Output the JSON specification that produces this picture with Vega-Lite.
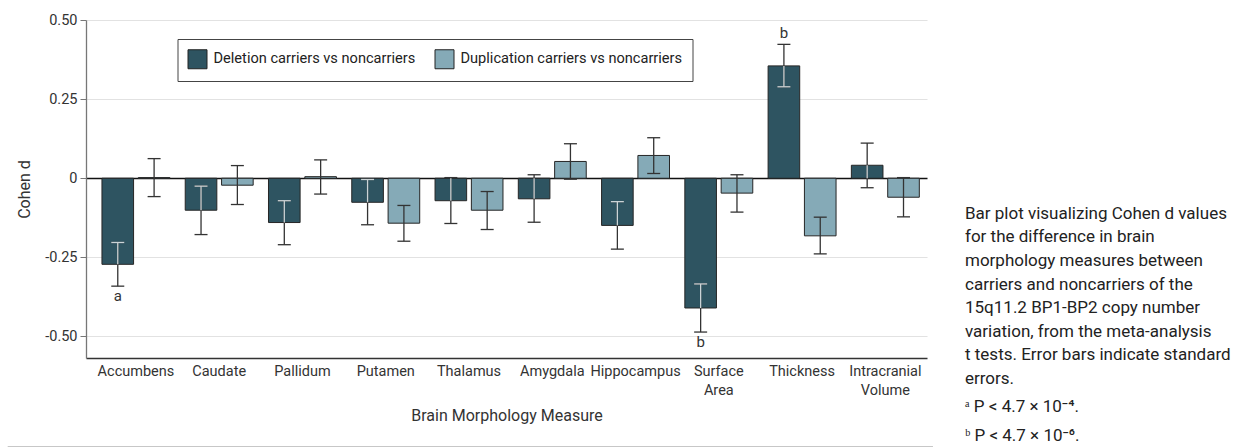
{
  "$schema": "https://vega.github.io/schema/vega-lite/v6.json",
  "padding": {"left": 7, "top": 12, "right": 0, "bottom": 0},
  "config": {
    "font": "Roboto",
    "view": {"stroke": null},
    "axis": {"labelColor": "#333", "titleColor": "#333", "titleFontWeight": "normal"}
  },
  "spacing": 31,
  "hconcat": [
    {
      "spacing": 22.5,
      "vconcat": [
        {
          "width": 841,
          "height": 338,
          "data": {
            "values": [
              {"measure": "Accumbens", "group": "Deletion carriers vs noncarriers", "d": -0.272, "lo": -0.341, "hi": -0.203, "inner": -0.203, "lab": "a"},
              {"measure": "Accumbens", "group": "Duplication carriers vs noncarriers", "d": 0.002, "lo": -0.058, "hi": 0.062},
              {"measure": "Caudate", "group": "Deletion carriers vs noncarriers", "d": -0.101, "lo": -0.178, "hi": -0.025, "inner": -0.025},
              {"measure": "Caudate", "group": "Duplication carriers vs noncarriers", "d": -0.022, "lo": -0.083, "hi": 0.04},
              {"measure": "Pallidum", "group": "Deletion carriers vs noncarriers", "d": -0.14, "lo": -0.21, "hi": -0.071, "inner": -0.071},
              {"measure": "Pallidum", "group": "Duplication carriers vs noncarriers", "d": 0.005, "lo": -0.05, "hi": 0.058},
              {"measure": "Putamen", "group": "Deletion carriers vs noncarriers", "d": -0.076, "lo": -0.147, "hi": -0.004, "inner": -0.004},
              {"measure": "Putamen", "group": "Duplication carriers vs noncarriers", "d": -0.142, "lo": -0.199, "hi": -0.086},
              {"measure": "Thalamus", "group": "Deletion carriers vs noncarriers", "d": -0.071, "lo": -0.143, "hi": 0.002, "inner": 0},
              {"measure": "Thalamus", "group": "Duplication carriers vs noncarriers", "d": -0.101, "lo": -0.162, "hi": -0.042},
              {"measure": "Amygdala", "group": "Deletion carriers vs noncarriers", "d": -0.065, "lo": -0.139, "hi": 0.011, "inner": 0},
              {"measure": "Amygdala", "group": "Duplication carriers vs noncarriers", "d": 0.053, "lo": -0.003, "hi": 0.109},
              {"measure": "Hippocampus", "group": "Deletion carriers vs noncarriers", "d": -0.149, "lo": -0.224, "hi": -0.074, "inner": -0.074},
              {"measure": "Hippocampus", "group": "Duplication carriers vs noncarriers", "d": 0.072, "lo": 0.015, "hi": 0.128},
              {"measure": "Surface Area", "group": "Deletion carriers vs noncarriers", "d": -0.41, "lo": -0.486, "hi": -0.334, "inner": -0.334, "lab": "b"},
              {"measure": "Surface Area", "group": "Duplication carriers vs noncarriers", "d": -0.047, "lo": -0.107, "hi": 0.011},
              {"measure": "Thickness", "group": "Deletion carriers vs noncarriers", "d": 0.355, "lo": 0.289, "hi": 0.423, "inner": 0.289, "lab": "b"},
              {"measure": "Thickness", "group": "Duplication carriers vs noncarriers", "d": -0.182, "lo": -0.239, "hi": -0.123},
              {"measure": "Intracranial Volume", "group": "Deletion carriers vs noncarriers", "d": 0.041, "lo": -0.03, "hi": 0.111, "inner": 0},
              {"measure": "Intracranial Volume", "group": "Duplication carriers vs noncarriers", "d": -0.06, "lo": -0.122, "hi": 0.002}
            ]
          },
          "encoding": {
            "x": {
              "field": "measure", "type": "nominal", "sort": null,
              "scale": {"paddingInner": 0.184, "paddingOuter": 0.142, "align": 0.675},
              "axis": {
                "title": "Brain Morphology Measure", "titleFontSize": 16, "titlePadding": 11,
                "labelAngle": 0, "labelFontSize": 14.5, "labelPadding": 6, "labelLineHeight": 19,
                "labelExpr": "split(datum.label, ' ')", "ticks": false,
                "domainColor": "#333", "domainWidth": 1.3, "grid": false
              }
            },
            "xOffset": {"field": "group", "type": "nominal", "sort": null, "scale": {"paddingInner": 0.13, "paddingOuter": 0}}
          },
          "layer": [
            {
              "mark": {"type": "bar", "stroke": "#262626", "strokeWidth": 1},
              "encoding": {
                "y": {
                  "field": "d", "type": "quantitative", "title": "Cohen d",
                  "scale": {"domain": [-0.568, 0.5], "nice": false, "zero": false},
                  "axis": {
                    "values": [-0.5, -0.25, 0, 0.25, 0.5],
                    "labelExpr": "datum.value == 0 ? '0' : (datum.value < 0 ? '-' + format(-datum.value, '.2f') : format(datum.value, '.2f'))",
                    "labelFontSize": 14.5, "labelPadding": 3, "tickSize": 6, "tickColor": "#777", "domainColor": "#777", "domainWidth": 1.3,
                    "titleFontSize": 16, "titlePadding": 12,
                    "grid": true,
                    "gridColor": {"condition": {"test": "datum.value === 0", "value": "#111"}, "value": "#e2e2e2"},
                    "gridWidth": {"condition": {"test": "datum.value === 0", "value": 1.3}, "value": 1.2}
                  }
                },
                "color": {
                  "field": "group", "type": "nominal",
                  "scale": {"domain": ["Deletion carriers vs noncarriers", "Duplication carriers vs noncarriers"], "range": ["#2e5461", "#85aab7"]},
                  "legend": {
                    "orient": "none", "legendX": 91.5, "legendY": 19, "direction": "horizontal", "title": null,
                    "symbolType": "square", "symbolSize": 361, "symbolStrokeColor": "#222", "symbolStrokeWidth": 1,
                    "labelFontSize": 14.6, "labelColor": "#222", "labelOffset": 6, "columnPadding": 17, "labelLimit": 0,
                    "padding": 10, "strokeColor": "#444", "fillColor": "white"
                  }
                }
              }
            },
            {
              "mark": {"type": "rule", "color": "#333", "strokeWidth": 1.3},
              "encoding": {"y": {"field": "lo", "type": "quantitative", "title": "Cohen d"}, "y2": {"field": "hi"}}
            },
            {
              "mark": {"type": "tick", "color": "#333", "thickness": 1.3, "size": 13, "opacity": 1},
              "encoding": {"y": {"field": "lo", "type": "quantitative", "title": "Cohen d"}}
            },
            {
              "mark": {"type": "tick", "color": "#333", "thickness": 1.3, "size": 13, "opacity": 1},
              "encoding": {"y": {"field": "hi", "type": "quantitative", "title": "Cohen d"}}
            },
            {
              "transform": [{"filter": "isValid(datum.inner)"}],
              "mark": {"type": "rule", "color": "#cbd4d7", "strokeWidth": 1.3},
              "encoding": {"y": {"field": "d", "type": "quantitative", "title": "Cohen d"}, "y2": {"field": "inner"}}
            },
            {
              "transform": [{"filter": "isValid(datum.inner) && datum.inner != 0"}],
              "mark": {"type": "tick", "color": "#cbd4d7", "thickness": 1.3, "size": 13, "opacity": 1},
              "encoding": {"y": {"field": "inner", "type": "quantitative", "title": "Cohen d"}}
            },
            {
              "transform": [{"filter": "isValid(datum.lab) && datum.d < 0"}],
              "mark": {"type": "text", "baseline": "top", "dy": 3, "fontSize": 15, "color": "#333"},
              "encoding": {"y": {"field": "lo", "type": "quantitative", "title": "Cohen d"}, "text": {"field": "lab"}}
            },
            {
              "transform": [{"filter": "isValid(datum.lab) && datum.d > 0"}],
              "mark": {"type": "text", "baseline": "bottom", "dy": -3, "fontSize": 15, "color": "#333"},
              "encoding": {"y": {"field": "hi", "type": "quantitative", "title": "Cohen d"}, "text": {"field": "lab"}}
            }
          ]
        },
        {
          "width": 841,
          "height": 1,
          "data": {"values": [{"part": "frame"}]},
          "mark": {"type": "rule", "color": "#222", "strokeWidth": 1.3, "clip": false},
          "encoding": {
            "x": {"datum": -0.0931, "type": "quantitative", "scale": {"domain": [0, 1], "nice": false, "zero": false}, "axis": null},
            "x2": {"datum": 1.0071},
            "y": {"datum": 0, "type": "quantitative", "scale": {"domain": [0, 1]}, "axis": null}
          }
        }
      ]
    },
    {
      "width": 270,
      "height": 338,
      "data": {
        "values": [
          {"part": "p", "lines": ["Bar plot visualizing Cohen d values", "for the difference in brain", "morphology measures between", "carriers and noncarriers of the", "15q11.2 BP1-BP2 copy number", "variation, from the meta-analysis", "t tests. Error bars indicate standard", "errors."]},
          {"part": "f", "lines": ["ᵃ P < 4.7 × 10⁻⁴.", "ᵇ P < 4.7 × 10⁻⁶."]}
        ]
      },
      "layer": [
        {
          "transform": [{"filter": "datum.part == 'p'"}],
          "mark": {"type": "text", "align": "left", "baseline": "top", "fontSize": 17, "lineHeight": 23.57, "color": "#222"},
          "encoding": {
            "x": {"datum": 0, "type": "quantitative", "scale": {"domain": [0, 1]}, "axis": null},
            "y": {"datum": 1, "type": "quantitative", "scale": {"domain": [-6.689, 7.292], "reverse": true}, "axis": null},
            "text": {"field": "lines"}
          }
        },
        {
          "transform": [{"filter": "datum.part == 'f'"}],
          "mark": {"type": "text", "align": "left", "baseline": "top", "fontSize": 17, "lineHeight": 28.7, "color": "#222"},
          "encoding": {
            "x": {"datum": 0, "type": "quantitative", "scale": {"domain": [0, 1]}, "axis": null},
            "y": {"datum": 9, "type": "quantitative", "scale": {"domain": [-6.689, 7.292], "reverse": true}, "axis": null},
            "text": {"field": "lines"}
          }
        }
      ]
    }
  ]
}
